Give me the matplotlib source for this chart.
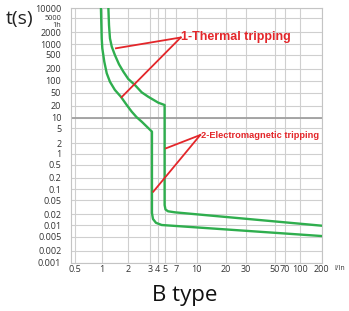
import numpy as np
import matplotlib
matplotlib.use("Agg")
import matplotlib.pyplot as plt
from matplotlib.ticker import NullLocator

# ---------------- data ----------------
x_ticks = [0.5, 1, 2, 3, 4, 5, 7, 10, 20, 30, 50, 70, 100, 200]
x_tick_labels = ["0.5", "1", "2", "3", "4", "5", "7", "10", "20", "30", "50", "70", "100", "200"]
y_ticks = [10000, 5000, 3600, 2000, 1000, 500, 200, 100, 50, 20, 10, 5, 2, 1,
           0.5, 0.2, 0.1, 0.05, 0.02, 0.01, 0.005, 0.002, 0.001]
y_tick_labels = ["10000", "5000", "1h", "2000", "1000", "500", "200", "100", "50", "20", "10",
                 "5", "2", "1", "0.5", "0.2", "0.1", "0.05", "0.02", "0.01", "0.005", "0.002", "0.001"]
y_grid_values = [v for v in y_ticks if v != 3600]

# lower-bound curve (left)
curve1_I = [0.98, 1.0, 1.016, 1.07, 1.14, 1.24, 1.41, 1.65, 1.92, 2.13, 2.33, 2.56, 3.2,
            3.2, 3.33, 3.74, 4.5, 200]
curve1_t = [10000, 1400, 753, 312, 152, 93, 58, 37, 20.7, 14, 10.2, 7.6, 4.0,
            0.0213, 0.0146, 0.01148, 0.0100, 0.0052]
# upper-bound curve (right)
curve2_I = [1.19, 1.21, 1.24, 1.30, 1.41, 1.57, 1.76, 2.0, 2.26, 2.56, 2.89, 4.07, 4.9,
            4.9, 5.03, 5.46, 6.84, 200]
curve2_t = [10000, 3470, 1400, 838, 484, 263, 166, 109, 77, 50.5, 37, 24.4, 20.7,
            0.036, 0.0269, 0.0239, 0.0223, 0.0096]

label1 = "1-Thermal tripping"
label1_xy = (7.7, 1470)
label1_targets = [(1.45, 753), (1.68, 36)]
label2 = "2-Electromagnetic tripping"
label2_xy = (11.1, 3.26)
label2_targets = [(5.12, 1.41), (3.37, 0.0856)]

# ------------- axis warping (chart's hand-drawn scale) -------------
X_SCALE_VALS = np.log10([1e-3, 0.5, 1, 2, 3, 4, 5, 7, 10, 20, 30, 50, 70, 100, 200, 1e5])
X_SCALE_POS = np.array([-161.4, 75.3, 101.7, 128.3, 150.3, 157.7, 165.3, 175.7, 196.7,
                        226, 246, 275, 285, 300, 321.7, 518.7])
Y_SCALE_VALS = np.log10([1e-6, 0.001, 0.002, 0.005, 0.01, 0.02, 0.05, 0.1, 0.2, 0.5, 1, 2, 5, 10,
                         20, 50, 100, 200, 500, 1000, 2000, 3600, 5000, 10000, 1e7])
Y_SCALE_POS = -np.array([370.7, 262.7, 250.7, 236.7, 225, 214, 200, 189.3, 177.5, 164.5, 153.5,
                         143, 128, 117.5, 105.5, 92.5, 80.5, 68.5, 54.5, 44, 32.3, 24.8, 17.8,
                         8, -100])


def _log(v):
    v = np.asarray(v, dtype=float)
    with np.errstate(divide="ignore", invalid="ignore"):
        return np.log10(np.clip(v, 1e-300, None))


def fx(v):
    return np.interp(_log(v), X_SCALE_VALS, X_SCALE_POS)


def fx_inv(p):
    return 10 ** np.interp(np.asarray(p, dtype=float), X_SCALE_POS, X_SCALE_VALS)


def fy(v):
    return np.interp(_log(v), Y_SCALE_VALS, Y_SCALE_POS)


def fy_inv(p):
    return 10 ** np.interp(np.asarray(p, dtype=float), Y_SCALE_POS, Y_SCALE_VALS)


# ---------------- figure ----------------
W, H = 349, 311
fig = plt.figure(figsize=(W / 100, H / 100), dpi=100)
ax = fig.add_axes([71 / W, (H - 262.7) / H, 250.7 / W, 254.7 / H])
ax.set_xscale("function", functions=(fx, fx_inv))
ax.set_yscale("function", functions=(fy, fy_inv))
ax.set_xlim(0.4467, 200)
ax.set_ylim(0.001, 10000)

grid_c = "#cfcfcf"
for v in x_ticks:
    ax.axvline(v, color=grid_c, lw=0.8, zorder=1)
for v in y_grid_values:
    ax.axhline(v, color=grid_c, lw=0.8, zorder=1)
ax.axhline(10, color="#a0a0a0", lw=1.3, zorder=1)

for s in ax.spines.values():
    s.set_color("#c4c4c4")
    s.set_linewidth(0.8)

ax.set_xticks(x_ticks)
ax.set_xticklabels(x_tick_labels)
ax.set_yticks(y_ticks)
ax.set_yticklabels(y_tick_labels)
ax.xaxis.set_minor_locator(NullLocator())
ax.yaxis.set_minor_locator(NullLocator())
ax.tick_params(axis="both", length=0, labelsize=6.5, colors="#333333")
ax.tick_params(axis="y", pad=7)
ax.tick_params(axis="x", pad=1.5)
for lab in ax.get_xticklabels() + ax.get_yticklabels():
    lab.set_fontfamily("Open Sans")
for lab in ax.get_yticklabels():
    if lab.get_text() in ("5000", "1h"):
        lab.set_fontsize(5.3)

green = "#2fae4e"
ax.plot(curve1_I, curve1_t, color=green, lw=1.7, zorder=3, solid_joinstyle="round")
ax.plot(curve2_I, curve2_t, color=green, lw=1.7, zorder=3, solid_joinstyle="round")

red = "#e3262a"
for tx, ty in label1_targets:
    ax.plot([label1_xy[0] * 0.99, tx], [label1_xy[1], ty], color=red, lw=1.3, zorder=4)
for tx, ty in label2_targets:
    ax.plot([label2_xy[0] * 0.98, tx], [label2_xy[1], ty], color=red, lw=1.3, zorder=4)
ax.text(*label1_xy, label1, color=red, fontsize=9, fontweight="bold",
        family="Liberation Sans", ha="left", va="center", zorder=5)
ax.text(*label2_xy, label2, color=red, fontsize=6.7, fontweight="bold",
        family="Liberation Sans", ha="left", va="center", zorder=5)

fig.text(6 / W, 1 - 19 / H, "t(s)", fontsize=14, family="Open Sans", color="#222222",
         ha="left", va="center")
fig.text(334 / W, 1 - 268.5 / H, "I/In", fontsize=5, family="Open Sans", color="#333333",
         ha="left", va="center")
fig.text(184.5 / W, 1 - 300.7 / H, "B type", fontsize=16, family="Open Sans", color="#111111",
         ha="center", va="baseline")

fig.savefig("out.png", dpi=100)
